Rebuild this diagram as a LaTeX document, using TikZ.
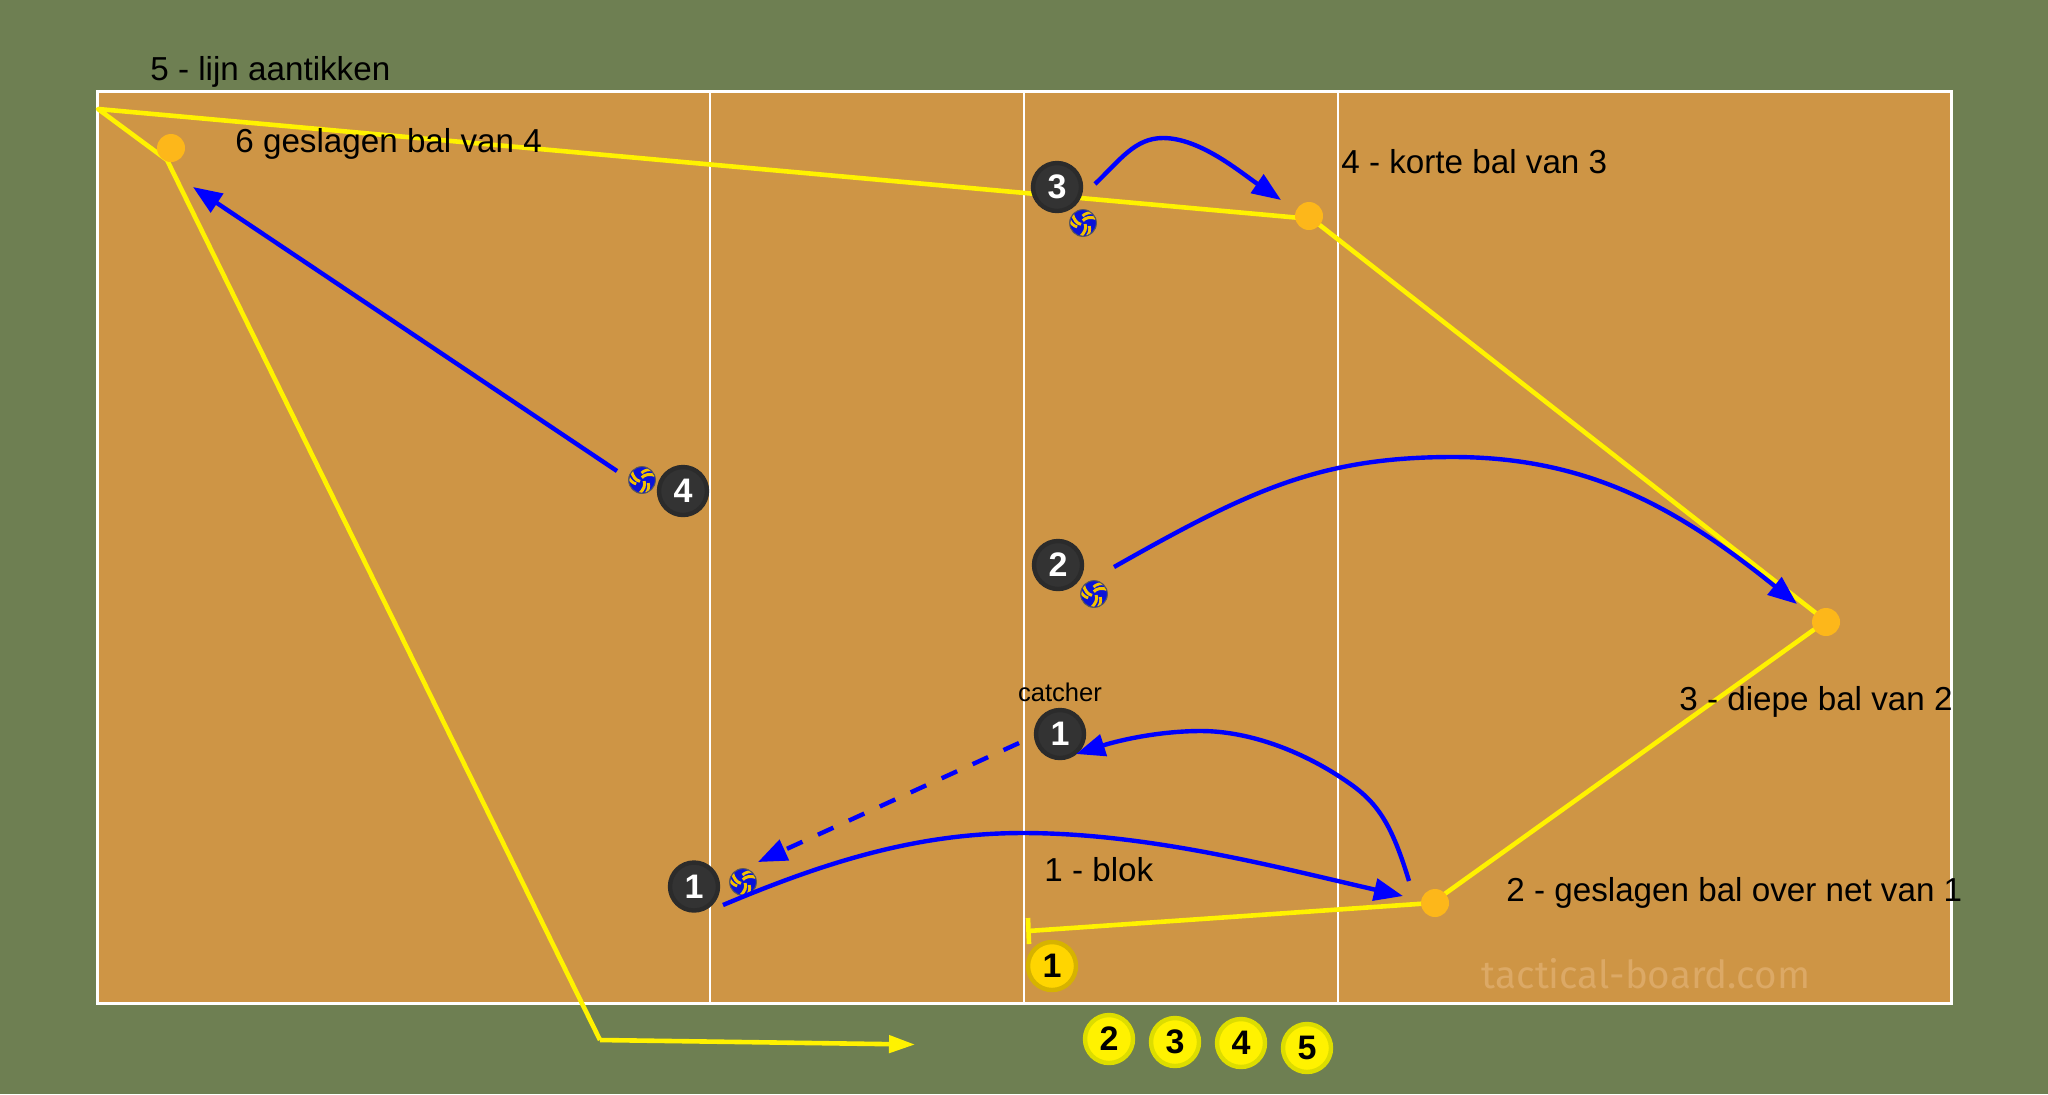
\documentclass[tikz,border=0pt]{standalone}
\usepackage{fontspec}
\setmainfont{Liberation Sans}
\newfontfamily\wmfont{Fira Sans}
\usetikzlibrary{arrows.meta}
\definecolor{bggreen}{HTML}{6E7F52}
\definecolor{court}{HTML}{CE9545}
\definecolor{dotorange}{HTML}{FDB71A}
\definecolor{dark}{HTML}{333333}
\definecolor{darkrim}{HTML}{2B2B2B}
\definecolor{wm}{HTML}{DCA966}
\definecolor{ballblue}{HTML}{0A14D8}
\definecolor{ballyel}{HTML}{F2C200}
\definecolor{benchrim}{HTML}{DDDD00}
\definecolor{gold}{HTML}{FFD500}
\definecolor{goldrim}{HTML}{D6B300}
\tikzset{
  x=0.5pt,y=-0.5pt,
  courtline/.style={draw=white,line width=1.5pt},
  netline/.style={draw=white,line width=1pt},
  yline/.style={draw=yellow,line width=2.3pt},
  bline/.style={draw=blue,line width=2.2pt},
  btip/.style={-{Triangle[length=14.5pt,width=11pt]}},
  ytip/.style={-{Triangle[length=13pt,width=8.5pt]}},
  player/.style={circle,fill=dark,draw=darkrim,line width=2.2pt,minimum size=24pt,inner sep=0pt,text=white,font=\fontsize{17}{17}\selectfont\bfseries},
  bench/.style={circle,fill=yellow,draw=benchrim,line width=2.2pt,minimum size=24pt,inner sep=0pt,text=black,font=\fontsize{17}{17}\selectfont\bfseries},
  benchgold/.style={bench,fill=gold,draw=goldrim},
  target/.style={circle,fill=dotorange,minimum size=14pt,inner sep=0pt},
  lab/.style={anchor=west,inner sep=0pt,text=black,font=\fontsize{16.6}{17}\selectfont},
  ball/.pic={
    \fill[ballblue] (0,0) circle[radius=6.7pt];
    \begin{scope}
      \clip (0,0) circle[radius=6.4pt];
      \foreach \r in {35,155,275}{
        \begin{scope}[rotate=\r]
          \draw[ballyel,line width=1.5pt] (0.6pt,1pt) .. controls (2.5pt,1.5pt) and (4.8pt,0.8pt) .. (7pt,-2.4pt);
          \draw[ballyel,line width=1.4pt] (1.8pt,3pt) .. controls (3.6pt,3.4pt) and (5.8pt,2.6pt) .. (7pt,1.2pt);
        \end{scope}
      }
    \end{scope}
    \draw[gray!70!black,line width=0.5pt] (0,0) circle[radius=6.7pt];
  }
}
\begin{document}
\begin{tikzpicture}
\useasboundingbox (0,0) rectangle (2048,1094);
\fill[bggreen] (0,0) rectangle (2048,1094);
\fill[court] (97,91) rectangle (1951,1003);
\draw[netline] (709.5,91) -- (709.5,1003);
\draw[netline] (1024,91) -- (1024,1003);
\draw[netline] (1338,91) -- (1338,1003);
\draw[courtline] (97,91) rectangle (1951,1003);

% named points
\coordinate (tcentre) at (1028,931);
\coordinate (tbarA) at (1028,918);
\coordinate (tbarB) at (1029,944);
\coordinate (corner) at (98,109);
\coordinate (elbow) at (167,160);
\coordinate (outside) at (600,1040);
\coordinate (runend) at (915,1044.5);
\coordinate (v2) at (1312,219);
\coordinate (v3) at (1826,621);
\coordinate (v4) at (1432,903);

% yellow route
\draw[yline] (v4) -- (tcentre);
\draw[yline] (tbarA) -- (tbarB);
\draw[yline,line join=round] (v4) -- (v3) -- (v2) -- (corner) -- (elbow) -- (outside);
\draw[yline,ytip] (outside) -- (runend);

% target dots
\node[target] (d1) at (171,148) {};
\node[target] (d2) at (1309,216) {};
\node[target] (d3) at (1826,622) {};
\node[target] (d4) at (1435,903) {};

% players
\node[player] (p3) at (1057,187) {3};
\node[player] (p4) at (683,491) {4};
\node[player] (p2) at (1058,565) {2};
\node[player] (pc) at (1060,734) {1};
\node[player] (p1) at (694,886.5) {1};
\node[benchgold] (y1) at (1052,966) {1};
\node[bench] (y2) at (1109,1039) {2};
\node[bench] (y3) at (1175,1042) {3};
\node[bench] (y4) at (1241,1043) {4};
\node[bench] (y5) at (1307,1048) {5};

% balls
\pic at (1083,223) {ball};
\pic at (642,480) {ball};
\pic at (1094,594) {ball};
\pic at (743,882) {ball};

% arrow end points
\coordinate (a3s) at (1095,184);
\coordinate (a3p) at (1163,138);
\coordinate (a3e) at (1281,200);
\coordinate (a4s) at (617,471);
\coordinate (a4e) at (193,187);
\coordinate (a2s) at (1114,567);
\coordinate (a2p) at (1453,457);
\coordinate (a2e) at (1797,604);
\coordinate (a1s) at (723,905);
\coordinate (a1p) at (1023,833);
\coordinate (a1e) at (1403,896);
\coordinate (ars) at (1409,881);
\coordinate (arq) at (1349,783);
\coordinate (arp) at (1201,731);
\coordinate (are) at (1076,754);
\coordinate (ads) at (1019,743);
\coordinate (ade) at (758,862);

% blue arrows
\draw[bline,btip] (a3s) .. controls (1120,160) and (1135,138) .. (a3p) .. controls (1200,138) and (1240,172) .. (a3e);
\draw[bline,btip] (a4s) -- (a4e);
\draw[bline,btip] (a2s) .. controls (1250,490) and (1320,457) .. (a2p) .. controls (1590,457) and (1680,510) .. (a2e);
\draw[bline,btip] (a1s) .. controls (830,860) and (920,833) .. (a1p) .. controls (1150,833) and (1280,868) .. (a1e);
\draw[bline,btip] (ars) .. controls (1392,825) and (1378,803) .. (arq) .. controls (1305,752) and (1250,731) .. (arp) .. controls (1160,731) and (1120,740) .. (are);
\draw[bline,btip,dash pattern=on 8.5pt off 8.5pt] (ads) -- (ade);

% labels
\node[lab] (l5) at (150,72) {5 - lijn aantikken};
\node[lab] (l6) at (235,144) {6 geslagen bal van 4};
\node[lab] (l4) at (1341,162) {4 - korte bal van 3};
\node[lab] (l3) at (1679,702) {3 - diepe bal van 2};
\node[lab] (l1) at (1044,870) {1 - blok};
\node[lab] (l2) at (1506,893) {2 - geslagen bal over net van 1};
\node[lab,anchor=center,font=\fontsize{12.8}{13}\selectfont] (lc) at (1060,692) {catcher};
\node[anchor=center,inner sep=0pt,text=wm,font=\fontsize{19.3}{20}\wmfont\selectfont] (wmark) at (1646,974) {tactical-board.com};
\end{tikzpicture}
\end{document}
